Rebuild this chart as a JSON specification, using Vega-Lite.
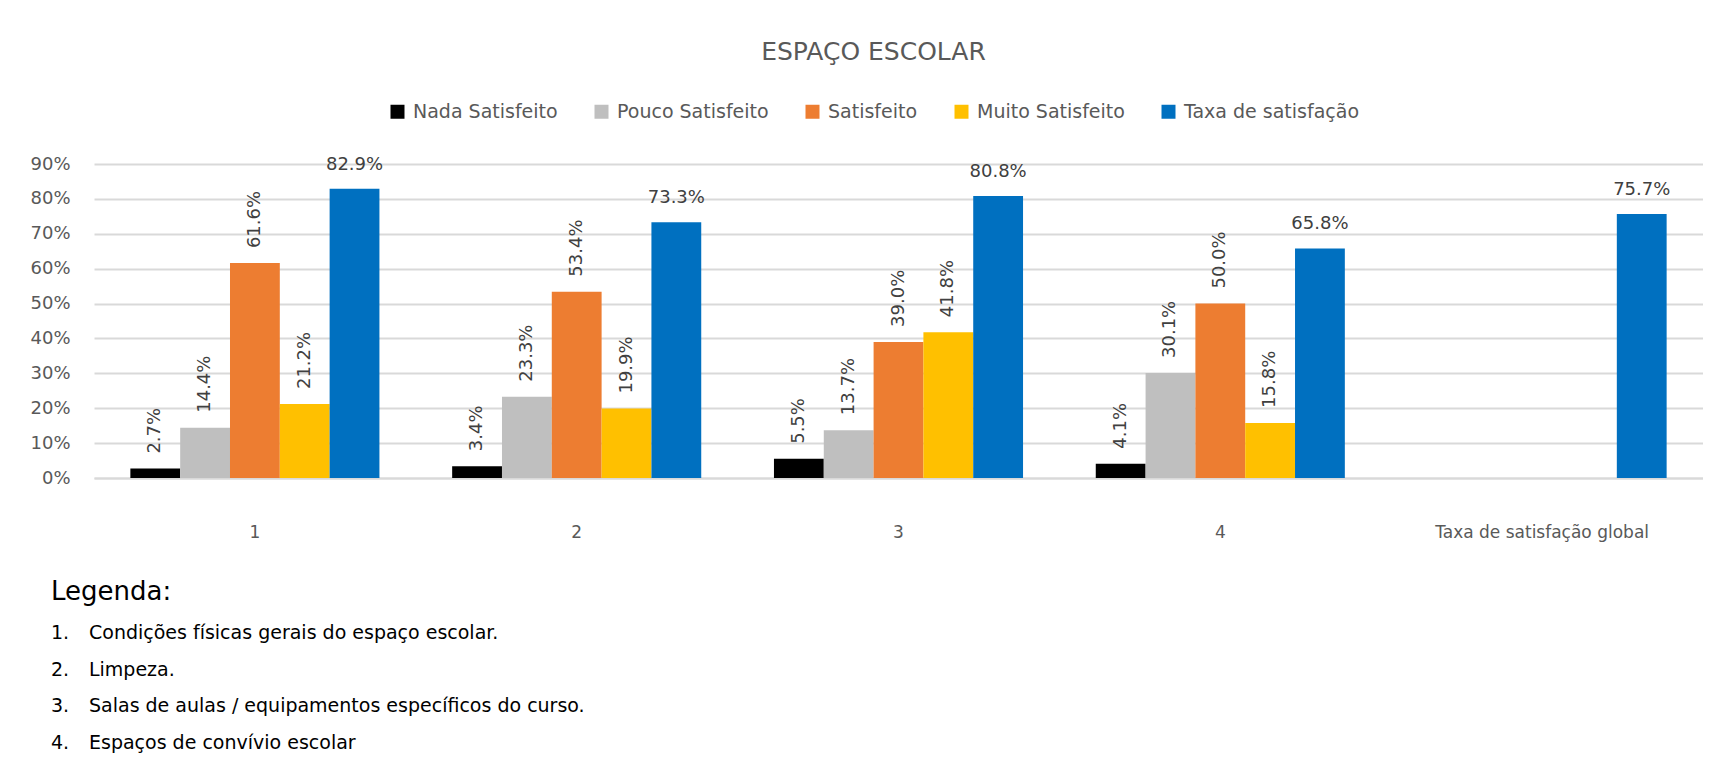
{
  "$schema": "https://vega.github.io/schema/vega-lite/v6.json",
  "padding": {"left": 29, "top": 40, "right": 0, "bottom": 0},
  "background": "white",
  "config": {"font": "DejaVu Sans", "view": {"stroke": null}},
  "spacing": 39,
  "vconcat": [
    {
      "width": 1609,
      "height": 314,
      "title": {"text": "ESPAÇO ESCOLAR", "fontSize": 25, "fontWeight": "normal", "color": "#595959", "frame": "group", "anchor": "middle", "dx": -25, "baseline": "alphabetic", "offset": 70},
      "data": {"values": [
        {"cat": "1", "serie": "Nada Satisfeito", "v": 0.027},
        {"cat": "1", "serie": "Pouco Satisfeito", "v": 0.144},
        {"cat": "1", "serie": "Satisfeito", "v": 0.616},
        {"cat": "1", "serie": "Muito Satisfeito", "v": 0.212},
        {"cat": "1", "serie": "Taxa de satisfação", "v": 0.829},
        {"cat": "2", "serie": "Nada Satisfeito", "v": 0.034},
        {"cat": "2", "serie": "Pouco Satisfeito", "v": 0.233},
        {"cat": "2", "serie": "Satisfeito", "v": 0.534},
        {"cat": "2", "serie": "Muito Satisfeito", "v": 0.199},
        {"cat": "2", "serie": "Taxa de satisfação", "v": 0.733},
        {"cat": "3", "serie": "Nada Satisfeito", "v": 0.055},
        {"cat": "3", "serie": "Pouco Satisfeito", "v": 0.137},
        {"cat": "3", "serie": "Satisfeito", "v": 0.390},
        {"cat": "3", "serie": "Muito Satisfeito", "v": 0.418},
        {"cat": "3", "serie": "Taxa de satisfação", "v": 0.808},
        {"cat": "4", "serie": "Nada Satisfeito", "v": 0.041},
        {"cat": "4", "serie": "Pouco Satisfeito", "v": 0.301},
        {"cat": "4", "serie": "Satisfeito", "v": 0.500},
        {"cat": "4", "serie": "Muito Satisfeito", "v": 0.158},
        {"cat": "4", "serie": "Taxa de satisfação", "v": 0.658},
        {"cat": "Taxa de satisfação global", "serie": "Taxa de satisfação", "v": 0.757}
      ]},
      "encoding": {
        "x": {"field": "cat", "type": "nominal", "sort": null,
          "scale": {"domain": ["1", "2", "3", "4", "Taxa de satisfação global"], "paddingInner": 0.226, "paddingOuter": 0.113},
          "axis": {"title": null, "labelAngle": 0, "labelFontSize": 17, "labelColor": "#595959", "labelPadding": 46, "labelLimit": 0, "ticks": false, "domainColor": "#D9D9D9", "domainWidth": 2, "grid": false}},
        "xOffset": {"field": "serie", "type": "nominal",
          "scale": {"domain": ["Nada Satisfeito", "Pouco Satisfeito", "Satisfeito", "Muito Satisfeito", "Taxa de satisfação"], "paddingInner": 0, "paddingOuter": 0}},
        "y": {"field": "v", "type": "quantitative",
          "scale": {"domain": [0, 0.9], "nice": false},
          "axis": {"title": null, "format": ".0%", "values": [0, 0.1, 0.2, 0.3, 0.4, 0.5, 0.6, 0.7, 0.8, 0.9], "domain": false, "ticks": false, "labelPadding": 24, "labelFontSize": 18, "labelColor": "#595959", "gridColor": "#D9D9D9", "gridWidth": 2}}
      },
      "layer": [
        {
          "mark": {"type": "bar"},
          "encoding": {
            "color": {"field": "serie", "type": "nominal",
              "scale": {"domain": ["Nada Satisfeito", "Pouco Satisfeito", "Satisfeito", "Muito Satisfeito", "Taxa de satisfação"], "range": ["#000000", "#BFBFBF", "#ED7D31", "#FFC000", "#0070C0"]},
              "legend": {"title": null, "orient": "none", "legendX": 294, "legendY": -62, "direction": "horizontal", "symbolType": "square", "symbolSize": 196, "symbolStrokeWidth": 0, "symbolOpacity": 1, "labelFontSize": 19, "labelColor": "#595959", "labelLimit": 0, "columnPadding": 34, "labelOffset": 6, "padding": 0}}
          }
        },
        {
          "transform": [{"filter": "datum.serie != 'Taxa de satisfação'"}],
          "mark": {"type": "text", "angle": 270, "align": "left", "baseline": "middle", "dx": 15, "fontSize": 18, "color": "#404040"},
          "encoding": {"text": {"field": "v", "format": ".1%"}}
        },
        {
          "transform": [{"filter": "datum.serie == 'Taxa de satisfação'"}],
          "mark": {"type": "text", "align": "center", "baseline": "alphabetic", "dy": -19, "fontSize": 18, "color": "#404040"},
          "encoding": {"text": {"field": "v", "format": ".1%"}}
        }
      ]
    },
    {
      "width": 1609,
      "height": 110,
      "title": {"text": "Legenda:", "anchor": "start", "frame": "group", "dx": -43, "fontSize": 26, "fontWeight": "normal", "color": "#000000", "baseline": "alphabetic", "offset": -2},
      "data": {"values": [
        {"n": "1.", "item": "Condições físicas gerais do espaço escolar."},
        {"n": "2.", "item": "Limpeza."},
        {"n": "3.", "item": "Salas de aulas / equipamentos específicos do curso."},
        {"n": "4.", "item": "Espaços de convívio escolar"}
      ]},
      "encoding": {
        "y": {"field": "n", "type": "ordinal", "scale": {"type": "point", "padding": 0}, "axis": null}
      },
      "layer": [
        {
          "mark": {"type": "text", "align": "left", "baseline": "alphabetic", "fontSize": 19, "color": "#000000"},
          "encoding": {
            "x": {"datum": "num", "type": "nominal", "scale": {"type": "point", "domain": ["num", "item"], "range": [-43, -5], "padding": 0}, "axis": null},
            "text": {"field": "n"}
          }
        },
        {
          "mark": {"type": "text", "align": "left", "baseline": "alphabetic", "fontSize": 19, "color": "#000000"},
          "encoding": {
            "x": {"datum": "item", "type": "nominal"},
            "text": {"field": "item"}
          }
        }
      ]
    }
  ]
}
